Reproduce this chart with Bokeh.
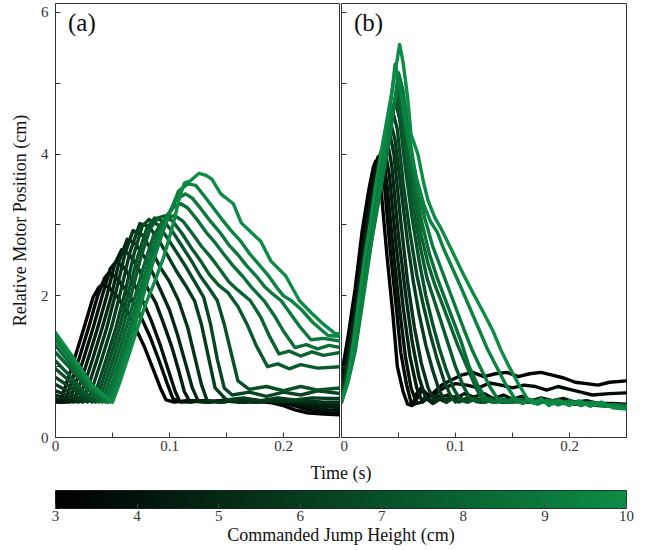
import numpy as np
from bokeh.plotting import figure
from bokeh.layouts import column, row
from bokeh.models import (FixedTicker, LinearColorMapper, ColumnDataSource,
                          Label, Range1d, LinearAxis)
from bokeh.transform import linear_cmap
from bokeh.embed import file_html
from bokeh.resources import INLINE

# Commanded jump heights (cm), one trace per height in each panel
heights = [3.0, 3.5, 4.0, 4.5, 5.0, 5.5, 6.0, 6.5, 7.0, 7.5, 8.0, 8.5, 9.0, 9.5, 10.0]

# Panel (a): (time s, relative motor position cm)
traces_a = [
    [(0, .52), (.004, .5), (.01, .78), (.017, 1.13), (.025, 1.55), (.033, 1.98), (.038, 2.12), (.042, 2.17), (.048, 2.1), (.055, 1.97), (.062, 1.8), (.07, 1.55), (.078, 1.28), (.086, .95), (.092, .7), (.097, .53), (.104, .5), (.115, .52), (.13, .5), (.145, .52), (.16, .5), (.175, .51), (.19, .49), (.2, .45), (.21, .39), (.22, .35), (.235, .33), (.25, .32)],
    [(0, .5), (.008, .5), (.014, .78), (.021, 1.13), (.029, 1.55), (.037, 2.0), (.043, 2.25), (.047, 2.33), (.053, 2.26), (.06, 2.12), (.067, 1.95), (.075, 1.7), (.083, 1.42), (.091, 1.08), (.098, .76), (.103, .55), (.11, .5), (.12, .52), (.135, .5), (.15, .53), (.165, .5), (.18, .52), (.195, .5), (.205, .47), (.215, .42), (.225, .38), (.24, .35), (.25, .34)],
    [(0, .52), (.006, .5), (.012, .5), (.018, .78), (.025, 1.13), (.033, 1.55), (.041, 2.0), (.048, 2.38), (.053, 2.48), (.06, 2.4), (.068, 2.2), (.076, 1.95), (.084, 1.65), (.092, 1.3), (.1, .9), (.105, .65), (.109, .51), (.116, .5), (.13, .52), (.145, .5), (.16, .52), (.175, .5), (.19, .52), (.205, .5), (.215, .46), (.225, .42), (.24, .39), (.25, .38)],
    [(0, .55), (.008, .52), (.016, .5), (.022, .78), (.029, 1.13), (.037, 1.55), (.045, 2.0), (.052, 2.45), (.058, 2.65), (.065, 2.58), (.073, 2.38), (.081, 2.1), (.088, 1.9), (.095, 1.6), (.102, 1.28), (.108, .95), (.113, .65), (.118, .5), (.13, .52), (.145, .5), (.16, .53), (.175, .5), (.19, .52), (.205, .5), (.22, .47), (.235, .44), (.25, .42)],
    [(0, .6), (.01, .55), (.02, .5), (.026, .78), (.033, 1.13), (.041, 1.55), (.049, 2.0), (.056, 2.5), (.063, 2.8), (.07, 2.74), (.078, 2.55), (.086, 2.3), (.093, 2.05), (.1, 1.8), (.107, 1.45), (.114, 1.05), (.12, .7), (.125, .52), (.135, .5), (.15, .53), (.165, .5), (.18, .52), (.195, .5), (.21, .52), (.225, .49), (.24, .47), (.25, .46)],
    [(0, .66), (.01, .6), (.018, .53), (.024, .5), (.03, .78), (.037, 1.13), (.045, 1.55), (.053, 2.05), (.061, 2.6), (.068, 2.92), (.076, 2.86), (.084, 2.65), (.092, 2.4), (.1, 2.2), (.108, 1.93), (.116, 1.55), (.122, 1.15), (.128, .75), (.133, .52), (.145, .5), (.16, .53), (.175, .5), (.19, .53), (.205, .51), (.22, .52), (.235, .5), (.25, .5)],
    [(0, .75), (.01, .66), (.02, .56), (.028, .5), (.034, .78), (.041, 1.13), (.049, 1.55), (.057, 2.05), (.065, 2.6), (.074, 3.02), (.082, 2.98), (.09, 2.8), (.098, 2.58), (.106, 2.35), (.114, 2.15), (.122, 1.93), (.128, 1.6), (.134, 1.15), (.14, .7), (.15, .53), (.165, .56), (.18, .52), (.195, .56), (.21, .53), (.225, .56), (.24, .55), (.25, .55)],
    [(0, .85), (.012, .72), (.024, .58), (.032, .5), (.038, .78), (.045, 1.13), (.053, 1.55), (.061, 2.05), (.069, 2.6), (.076, 2.98), (.082, 3.08), (.09, 3.0), (.098, 2.82), (.106, 2.62), (.114, 2.42), (.122, 2.2), (.13, 1.98), (.136, 1.6), (.142, 1.1), (.148, .7), (.155, .6), (.17, .64), (.185, .58), (.2, .64), (.215, .6), (.23, .66), (.25, .62)],
    [(0, .97), (.012, .8), (.025, .6), (.035, .5), (.041, .78), (.048, 1.13), (.056, 1.55), (.064, 2.05), (.072, 2.55), (.08, 2.95), (.087, 3.1), (.095, 3.05), (.103, 2.9), (.111, 2.7), (.119, 2.5), (.127, 2.28), (.135, 2.1), (.142, 1.93), (.148, 1.6), (.154, 1.2), (.16, .8), (.17, .68), (.185, .72), (.2, .66), (.215, .72), (.23, .67), (.25, .7)],
    [(0, 1.08), (.012, .88), (.025, .64), (.038, .5), (.044, .78), (.051, 1.13), (.059, 1.55), (.067, 2.05), (.075, 2.55), (.083, 2.95), (.09, 3.1), (.096, 3.13), (.103, 3.05), (.111, 2.88), (.119, 2.68), (.127, 2.5), (.135, 2.3), (.143, 2.15), (.151, 2.05), (.16, 1.85), (.168, 1.6), (.176, 1.3), (.186, 1.0), (.195, 1.04), (.205, .97), (.215, 1.03), (.23, .98), (.25, 1.0)],
    [(0, 1.2), (.014, .96), (.028, .68), (.041, .5), (.047, .78), (.054, 1.13), (.062, 1.55), (.07, 2.0), (.078, 2.45), (.086, 2.85), (.094, 3.05), (.1, 3.12), (.105, 3.13), (.112, 3.05), (.12, 2.88), (.128, 2.7), (.136, 2.55), (.144, 2.38), (.152, 2.2), (.16, 2.08), (.171, 1.93), (.18, 1.7), (.188, 1.42), (.196, 1.18), (.205, 1.22), (.215, 1.15), (.225, 1.21), (.235, 1.16), (.25, 1.2)],
    [(0, 1.3), (.014, 1.02), (.03, .7), (.044, .5), (.05, .78), (.057, 1.13), (.065, 1.55), (.073, 2.0), (.081, 2.45), (.089, 2.85), (.097, 3.12), (.104, 3.26), (.11, 3.3), (.116, 3.24), (.124, 3.08), (.132, 2.9), (.14, 2.75), (.148, 2.58), (.156, 2.42), (.164, 2.28), (.172, 2.12), (.183, 1.93), (.192, 1.72), (.2, 1.5), (.21, 1.27), (.22, 1.31), (.23, 1.25), (.24, 1.3), (.25, 1.27)],
    [(0, 1.38), (.015, 1.07), (.03, .72), (.046, .5), (.052, .78), (.059, 1.13), (.067, 1.55), (.075, 2.0), (.083, 2.45), (.091, 2.85), (.099, 3.15), (.106, 3.36), (.114, 3.44), (.12, 3.38), (.128, 3.22), (.136, 3.05), (.144, 2.9), (.152, 2.72), (.16, 2.58), (.168, 2.42), (.176, 2.28), (.184, 2.12), (.191, 2.02), (.198, 1.93), (.206, 1.75), (.215, 1.55), (.224, 1.38), (.235, 1.4), (.25, 1.36)],
    [(0, 1.43), (.016, 1.1), (.032, .73), (.048, .5), (.054, .78), (.061, 1.13), (.069, 1.55), (.077, 2.0), (.085, 2.45), (.093, 2.85), (.101, 3.2), (.108, 3.48), (.116, 3.58), (.123, 3.56), (.13, 3.42), (.138, 3.25), (.146, 3.08), (.154, 2.92), (.162, 2.78), (.17, 2.6), (.178, 2.45), (.186, 2.3), (.194, 2.12), (.2, 2.0), (.207, 1.93), (.216, 1.8), (.226, 1.62), (.239, 1.44), (.25, 1.43)],
    [(0, 1.48), (.016, 1.12), (.032, .74), (.05, .5), (.056, .76), (.063, 1.1), (.071, 1.5), (.079, 1.88), (.087, 2.2), (.095, 2.55), (.103, 3.0), (.109, 3.4), (.113, 3.59), (.118, 3.62), (.126, 3.73), (.132, 3.7), (.137, 3.65), (.145, 3.44), (.156, 3.3), (.163, 3.03), (.172, 2.89), (.18, 2.77), (.189, 2.49), (.202, 2.28), (.214, 1.93), (.225, 1.75), (.235, 1.6), (.245, 1.47), (.25, 1.46)],
]

# Panel (b): (time s, relative motor position cm)
traces_b = [
    [(0, .88), (.006, 1.45), (.012, 2.1), (.018, 2.9), (.024, 3.5), (.028, 3.82), (.03, 3.9), (.032, 3.85), (.035, 3.45), (.04, 2.55), (.045, 1.75), (.049, 1.0), (.054, .65), (.058, .47), (.062, .45), (.066, .62), (.07, .7), (.075, .6), (.08, .62), (.088, .74), (.095, .8), (.105, .88), (.115, .92), (.125, .86), (.135, .9), (.145, .92), (.155, .86), (.165, .9), (.175, .92), (.185, .88), (.195, .84), (.205, .78), (.215, .76), (.225, .74), (.235, .78), (.25, .8)],
    [(0, .8), (.006, 1.35), (.012, 1.95), (.018, 2.7), (.024, 3.35), (.029, 3.8), (.032, 3.96), (.035, 3.9), (.038, 3.5), (.043, 2.6), (.048, 1.85), (.052, 1.2), (.057, .75), (.061, .5), (.064, .47), (.068, .62), (.072, .66), (.077, .58), (.082, .62), (.09, .7), (.1, .76), (.11, .74), (.12, .7), (.13, .77), (.14, .74), (.15, .7), (.16, .74), (.17, .72), (.18, .67), (.19, .72), (.2, .68), (.21, .64), (.22, .6), (.235, .62), (.25, .63)],
    [(0, .75), (.006, 1.25), (.012, 1.85), (.018, 2.55), (.024, 3.2), (.03, 3.75), (.034, 4.0), (.037, 3.95), (.04, 3.55), (.046, 2.55), (.051, 1.8), (.056, 1.15), (.061, .7), (.066, .48), (.07, .5), (.074, .58), (.08, .5), (.086, .56), (.093, .6), (.1, .55), (.108, .62), (.116, .57), (.125, .62), (.133, .55), (.142, .6), (.15, .54), (.158, .58), (.167, .52), (.175, .56), (.185, .52), (.195, .55), (.205, .5), (.215, .52), (.225, .48), (.237, .48), (.25, .47)],
    [(0, .7), (.006, 1.2), (.012, 1.8), (.018, 2.5), (.024, 3.15), (.03, 3.7), (.035, 4.05), (.038, 4.08), (.042, 3.7), (.048, 2.7), (.054, 1.85), (.06, 1.15), (.066, .7), (.071, .5), (.075, .55), (.08, .48), (.086, .54), (.092, .5), (.1, .58), (.108, .52), (.116, .56), (.125, .5), (.135, .55), (.145, .5), (.155, .53), (.165, .5), (.175, .52), (.185, .48), (.195, .5), (.205, .47), (.215, .49), (.225, .45), (.237, .44), (.25, .43)],
    [(0, .65), (.006, 1.1), (.012, 1.7), (.018, 2.4), (.024, 3.05), (.03, 3.6), (.036, 4.05), (.04, 4.2), (.044, 3.85), (.05, 2.85), (.056, 2.05), (.062, 1.35), (.068, .85), (.074, .55), (.079, .5), (.084, .6), (.09, .52), (.097, .58), (.105, .52), (.113, .56), (.122, .5), (.132, .54), (.142, .5), (.152, .53), (.162, .5), (.172, .52), (.182, .5), (.192, .51), (.202, .48), (.212, .5), (.222, .47), (.235, .46), (.25, .45)],
    [(0, .6), (.006, 1.05), (.012, 1.6), (.018, 2.3), (.024, 2.95), (.03, 3.5), (.036, 4.0), (.04, 4.25), (.042, 4.32), (.046, 4.0), (.052, 3.05), (.058, 2.2), (.064, 1.55), (.07, 1.05), (.076, .7), (.082, .5), (.087, .56), (.092, .5), (.098, .56), (.105, .52), (.113, .55), (.122, .5), (.132, .54), (.142, .5), (.152, .52), (.162, .5), (.172, .52), (.182, .5), (.192, .5), (.202, .48), (.212, .5), (.225, .47), (.237, .46), (.25, .46)],
    [(0, .58), (.006, 1.0), (.012, 1.55), (.018, 2.2), (.024, 2.85), (.03, 3.4), (.036, 3.95), (.04, 4.3), (.043, 4.45), (.047, 4.2), (.053, 3.4), (.058, 2.75), (.063, 2.2), (.068, 1.75), (.074, 1.3), (.08, .95), (.086, .65), (.092, .5), (.097, .55), (.103, .5), (.11, .56), (.118, .52), (.126, .55), (.135, .5), (.145, .53), (.155, .5), (.165, .52), (.175, .5), (.185, .52), (.195, .48), (.205, .5), (.215, .47), (.225, .48), (.237, .45), (.25, .44)],
    [(0, .55), (.006, .95), (.012, 1.5), (.018, 2.15), (.024, 2.8), (.03, 3.35), (.036, 3.9), (.041, 4.4), (.045, 4.6), (.049, 4.35), (.054, 3.6), (.06, 2.9), (.066, 2.3), (.072, 1.85), (.078, 1.45), (.084, 1.1), (.09, .8), (.096, .58), (.1, .5), (.105, .55), (.111, .5), (.118, .55), (.126, .5), (.135, .54), (.145, .5), (.155, .52), (.165, .5), (.175, .52), (.185, .5), (.195, .5), (.205, .48), (.215, .5), (.225, .46), (.237, .45), (.25, .44)],
    [(0, .55), (.006, .92), (.012, 1.45), (.018, 2.1), (.024, 2.75), (.03, 3.3), (.036, 3.85), (.042, 4.4), (.047, 4.75), (.051, 4.5), (.056, 3.8), (.062, 3.1), (.068, 2.5), (.074, 2.0), (.08, 1.6), (.086, 1.25), (.092, .95), (.098, .7), (.104, .53), (.11, .5), (.116, .55), (.122, .5), (.13, .54), (.14, .5), (.15, .53), (.16, .5), (.17, .52), (.18, .5), (.19, .5), (.2, .48), (.21, .5), (.22, .47), (.235, .46), (.25, .45)],
    [(0, .52), (.006, .9), (.012, 1.4), (.018, 2.05), (.024, 2.7), (.03, 3.25), (.036, 3.8), (.042, 4.35), (.048, 4.85), (.052, 4.6), (.057, 3.95), (.063, 3.25), (.069, 2.7), (.075, 2.25), (.08, 2.0), (.086, 1.7), (.093, 1.35), (.1, 1.0), (.107, .72), (.113, .55), (.119, .5), (.125, .55), (.132, .5), (.14, .54), (.15, .5), (.16, .53), (.17, .5), (.18, .52), (.19, .5), (.2, .49), (.21, .5), (.22, .47), (.235, .46), (.25, .45)],
    [(0, .52), (.006, .88), (.012, 1.35), (.018, 2.0), (.024, 2.65), (.03, 3.2), (.036, 3.75), (.042, 4.3), (.049, 4.95), (.053, 4.7), (.058, 4.05), (.064, 3.4), (.07, 2.85), (.076, 2.45), (.082, 2.15), (.088, 1.9), (.095, 1.6), (.102, 1.3), (.11, 1.0), (.118, .7), (.124, .52), (.13, .55), (.136, .5), (.142, .54), (.15, .5), (.16, .53), (.17, .5), (.18, .52), (.19, .5), (.2, .5), (.21, .48), (.22, .48), (.235, .46), (.25, .45)],
    [(0, .5), (.006, .85), (.012, 1.3), (.018, 1.95), (.024, 2.6), (.03, 3.15), (.036, 3.7), (.042, 4.25), (.05, 5.05), (.054, 4.8), (.059, 4.15), (.065, 3.5), (.071, 3.0), (.077, 2.6), (.084, 2.25), (.091, 1.95), (.098, 1.65), (.105, 1.35), (.112, 1.0), (.12, .72), (.128, .52), (.134, .5), (.14, .55), (.147, .5), (.155, .54), (.165, .5), (.175, .52), (.185, .5), (.195, .5), (.205, .48), (.215, .49), (.225, .46), (.237, .45), (.25, .44)],
    [(0, .5), (.006, .82), (.012, 1.25), (.018, 1.9), (.024, 2.55), (.03, 3.1), (.036, 3.65), (.042, 4.2), (.05, 5.15), (.054, 4.9), (.06, 4.2), (.066, 3.6), (.073, 3.1), (.08, 2.7), (.087, 2.4), (.094, 2.1), (.101, 1.8), (.108, 1.5), (.115, 1.22), (.122, .98), (.13, .72), (.138, .52), (.145, .5), (.15, .55), (.157, .5), (.165, .53), (.175, .5), (.185, .52), (.195, .5), (.205, .49), (.215, .48), (.225, .46), (.237, .44), (.25, .43)],
    [(0, .5), (.006, .8), (.012, 1.22), (.018, 1.85), (.024, 2.5), (.03, 3.2), (.036, 3.85), (.042, 4.55), (.047, 5.27), (.051, 5.0), (.056, 4.45), (.061, 4.0), (.066, 3.65), (.072, 3.3), (.078, 3.05), (.084, 2.9), (.09, 2.65), (.097, 2.4), (.104, 2.15), (.112, 1.85), (.12, 1.55), (.128, 1.25), (.136, 1.0), (.144, .75), (.152, .55), (.159, .48), (.165, .53), (.172, .47), (.18, .53), (.19, .46), (.2, .52), (.21, .45), (.22, .5), (.23, .44), (.24, .46), (.25, .42)],
    [(0, .5), (.005, .75), (.01, 1.3), (.015, 1.9), (.02, 2.5), (.025, 3.0), (.03, 3.55), (.035, 4.05), (.04, 4.5), (.045, 4.95), (.049, 5.35), (.051, 5.55), (.054, 5.3), (.058, 4.8), (.061, 4.28), (.067, 4.0), (.072, 3.6), (.076, 3.34), (.082, 3.1), (.087, 2.96), (.095, 2.7), (.101, 2.5), (.107, 2.3), (.115, 2.05), (.125, 1.75), (.133, 1.5), (.14, 1.23), (.147, 1.0), (.155, .76), (.163, .55), (.169, .48), (.175, .55), (.182, .45), (.19, .53), (.2, .45), (.208, .52), (.218, .44), (.228, .5), (.238, .42), (.25, .4)],
]

x_ticks = [0, 0.05, 0.1, 0.15, 0.2, 0.25]
x_tick_text = {0: "0", 0.05: "", 0.1: "0.1", 0.15: "", 0.2: "0.2", 0.25: ""}
y_ticks = [0, 1, 2, 3, 4, 5, 6]
y_tick_text = {0: "0", 1: "", 2: "2", 3: "", 4: "4", 5: "", 6: "6"}
cbar_ticks = [3, 4, 5, 6, 7, 8, 9, 10]

SERIF = "Liberation Serif"
INK = "#333333"
TICK_PX = "15px"
LABEL_PX = "18px"

# black -> green ramp shared by the traces and the colour bar
lo_rgb, hi_rgb = (0, 0, 0), (13, 140, 70)
palette = ["#%02x%02x%02x" % tuple(int(round(lo_rgb[k] + (hi_rgb[k] - lo_rgb[k]) * s)) for k in range(3))
           for s in np.linspace(0, 1, 256)]
mapper = LinearColorMapper(palette=palette, low=3, high=10)

X_MAX, Y_MAX = 0.25, 6.127


def style_axes(p):
    p.grid.visible = False
    p.outline_line_color = INK
    p.outline_line_width = 1
    p.background_fill_color = "white"
    p.border_fill_color = "white"
    for ax in (p.xaxis[0], p.yaxis[0]):
        ax.axis_line_color = INK
        ax.major_tick_line_color = INK
        ax.major_tick_in = 5
        ax.major_tick_out = 0
        ax.minor_tick_line_color = None
        ax.major_label_text_font = SERIF
        ax.major_label_text_font_size = TICK_PX
        ax.major_label_text_color = INK
        ax.axis_label_text_font = SERIF
        ax.axis_label_text_font_style = "normal"
        ax.axis_label_text_font_size = LABEL_PX
        ax.axis_label_text_color = "#111111"
    p.xaxis.ticker = FixedTicker(ticks=x_ticks)
    p.xaxis.major_label_overrides = x_tick_text
    p.xaxis.major_label_standoff = 3
    p.yaxis.ticker = FixedTicker(ticks=y_ticks)


def draw_traces(p, traces):
    src = ColumnDataSource(dict(
        xs=[[pt[0] for pt in tr] for tr in traces],
        ys=[[pt[1] for pt in tr] for tr in traces],
        h=heights,
    ))
    p.multi_line(xs="xs", ys="ys", source=src, line_width=3.4,
                 line_color=linear_cmap("h", palette, 3, 10),
                 line_join="round", line_cap="round")


pa = figure(width=340, height=459, x_range=Range1d(0, X_MAX), y_range=Range1d(0, Y_MAX),
            output_backend="svg", toolbar_location=None,
            min_border_left=55, min_border_right=0, min_border_top=3, min_border_bottom=22)
style_axes(pa)
pa.yaxis.major_label_overrides = y_tick_text
pa.yaxis.major_label_standoff = 7
pa.yaxis.axis_label = "Relative Motor Position (cm)"
pa.yaxis.axis_label_standoff = 8
draw_traces(pa, traces_a)
pa.add_layout(Label(x=0.011, y=5.86, text="(a)", text_font=SERIF, text_font_size="25px",
                    text_baseline="middle", text_color="#111111"))

pb = figure(width=306, height=459, x_range=Range1d(0, X_MAX), y_range=Range1d(0, Y_MAX),
            output_backend="svg", toolbar_location=None,
            min_border_left=1, min_border_right=20, min_border_top=3, min_border_bottom=22)
style_axes(pb)
pb.yaxis.major_label_overrides = {t: "" for t in y_ticks}
pb.yaxis.major_label_text_font_size = "0px"
pb.yaxis.major_label_standoff = 0
draw_traces(pb, traces_b)
pb.add_layout(Label(x=0.011, y=5.86, text="(b)", text_font=SERIF, text_font_size="25px",
                    text_baseline="middle", text_color="#111111"))

# colour bar strip; the shared time label rides on a bare axis above it
pc = figure(width=646, height=91, x_range=Range1d(3, 10), y_range=Range1d(0, 1),
            output_backend="svg", toolbar_location=None, y_axis_type=None,
            min_border_left=55, min_border_right=20, min_border_top=29, min_border_bottom=42)
pc.grid.visible = False
pc.outline_line_color = "#222222"
pc.border_fill_color = "white"
ramp = np.linspace(3, 10, 400).reshape(1, -1)
pc.image(image=[ramp], x=3, y=0, dw=7, dh=1, color_mapper=mapper)

# colour scale axis along the bottom of the bar
ax = pc.below[0]
ax.ticker = FixedTicker(ticks=cbar_ticks)
ax.axis_line_color = None
ax.major_tick_in = 5
ax.major_tick_out = 0
ax.major_tick_line_color = "#444444"
ax.minor_tick_line_color = None
ax.major_label_text_font = SERIF
ax.major_label_text_font_size = TICK_PX
ax.major_label_text_color = INK
ax.major_label_standoff = 2
ax.axis_label = "Commanded Jump Height (cm)"
ax.axis_label_text_font = SERIF
ax.axis_label_text_font_style = "normal"
ax.axis_label_text_font_size = LABEL_PX
ax.axis_label_text_color = "#111111"
ax.axis_label_standoff = 1

time_axis = LinearAxis(ticker=FixedTicker(ticks=[]), axis_label="Time (s)",
                       axis_line_color=None, major_tick_line_color=None,
                       minor_tick_line_color=None, major_tick_in=0, major_tick_out=0,
                       major_label_text_font_size="0px", major_label_standoff=0,
                       axis_label_standoff=8, axis_label_text_font=SERIF,
                       axis_label_text_font_style="normal",
                       axis_label_text_font_size=LABEL_PX, axis_label_text_color="#111111")
pc.add_layout(time_axis, "above")

layout = column(row(pa, pb), pc)
open("out.html", "w").write(file_html(layout, INLINE))
